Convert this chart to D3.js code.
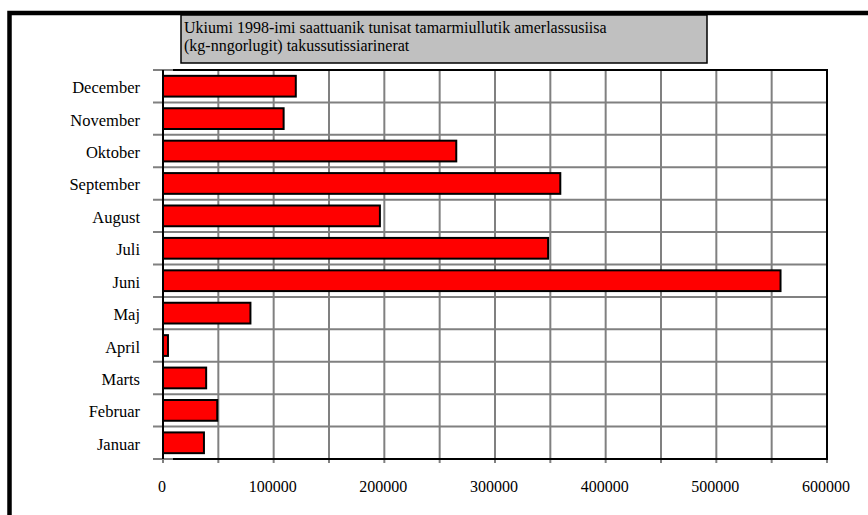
<!DOCTYPE html>
<html>
<head>
<meta charset="utf-8">
<script src="https://cdn.jsdelivr.net/npm/d3@7"></script>
<style>
  body { margin: 0; background: #fff; }
  svg { display: block; }
  text { font-family: "Liberation Serif", "Times New Roman", serif; }
</style>
</head>
<body>
<svg id="chart" width="868" height="515"></svg>
<script>
// months bottom -> top as in the chart
const months = ["Januar", "Februar", "Marts", "April", "Maj", "Juni",
                "Juli", "August", "September", "Oktober", "November", "December"];
const values = [37000, 49000, 39000, 4500, 79000, 558000,
                348000, 196000, 359000, 265000, 109000, 120000];
const xTicks = [0, 100000, 200000, 300000, 400000, 500000, 600000];
const titleLines = ["Ukiumi 1998-imi saattuanik tunisat tamarmiullutik amerlassusiisa",
                    "(kg-nngorlugit) takussutissiarinerat"];

const svg = d3.select("#chart");

const margin = {top: 70, left: 163, right: 41, bottom: 56};
const width = 868 - margin.left - margin.right;
const height = 515 - margin.top - margin.bottom;
const gridColor = "#808080";

// outer frame
svg.append("rect")
  .attr("x", 9.5).attr("y", 13)
  .attr("width", 868).attr("height", 515)
  .attr("fill", "none").attr("stroke", "#000").attr("stroke-width", 4.5);

const x = d3.scaleLinear().domain([0, 600000]).range([0, width]);
const y = d3.scaleBand()
  .domain(months.slice().reverse())
  .range([0, height])
  .paddingInner(0.36)
  .paddingOuter(0.18);

const g = svg.append("g").attr("transform", `translate(${margin.left},${margin.top})`);

// vertical gridlines every 50000, sticking out below the axis
g.selectAll(".vgrid")
  .data(d3.range(0, 600001, 50000))
  .enter().append("line")
    .attr("x1", d => x(d)).attr("x2", d => x(d))
    .attr("y1", 0).attr("y2", height + 4)
    .attr("stroke", gridColor).attr("stroke-width", 2);

// horizontal gridlines at band boundaries, sticking out to the left
const step = height / months.length;
g.selectAll(".hgrid")
  .data(d3.range(months.length + 1))
  .enter().append("line")
    .attr("x1", -10).attr("x2", width)
    .attr("y1", d => d * step).attr("y2", d => d * step)
    .attr("stroke", gridColor).attr("stroke-width", 2);

// plot border
g.append("line").attr("x1", 10).attr("x2", width + 1).attr("y1", 0).attr("y2", 0)
  .attr("stroke", "#000").attr("stroke-width", 2);
g.append("line").attr("x1", 10).attr("x2", width + 1).attr("y1", height).attr("y2", height)
  .attr("stroke", "#000").attr("stroke-width", 2);
g.append("line").attr("x1", width).attr("x2", width).attr("y1", 0).attr("y2", height)
  .attr("stroke", "#000").attr("stroke-width", 2);
g.append("line").attr("x1", 0).attr("x2", 0).attr("y1", 0).attr("y2", height)
  .attr("stroke", "#000").attr("stroke-width", 2);

// bars
g.selectAll(".bar")
  .data(months)
  .enter().append("rect")
    .attr("x", x(0))
    .attr("y", d => y(d))
    .attr("width", (d, i) => x(values[i]) - x(0))
    .attr("height", y.bandwidth())
    .attr("fill", "#ff0000")
    .attr("stroke", "#000")
    .attr("stroke-width", 2);

// y labels
g.selectAll(".ylab")
  .data(months)
  .enter().append("text")
    .attr("x", -23)
    .attr("y", d => y(d) + y.bandwidth() / 2 + 7)
    .attr("text-anchor", "end")
    .attr("font-size", 16.5)
    .attr("fill", "#000")
    .text(d => d);

// x labels
g.selectAll(".xlab")
  .data(xTicks)
  .enter().append("text")
    .attr("x", d => x(d) - 1)
    .attr("y", height + 33)
    .attr("text-anchor", "middle")
    .attr("font-size", 16)
    .attr("fill", "#000")
    .text(d => d);

// title box
svg.append("rect")
  .attr("x", 181).attr("y", 15)
  .attr("width", 526).attr("height", 48)
  .attr("fill", "#c0c0c0").attr("stroke", "#000").attr("stroke-width", 1.5);

svg.selectAll(".title")
  .data(titleLines)
  .enter().append("text")
    .attr("x", 184)
    .attr("y", (d, i) => 33 + i * 18)
    .attr("font-size", 16)
    .attr("fill", "#000")
    .text(d => d);
</script>
</body>
</html>
